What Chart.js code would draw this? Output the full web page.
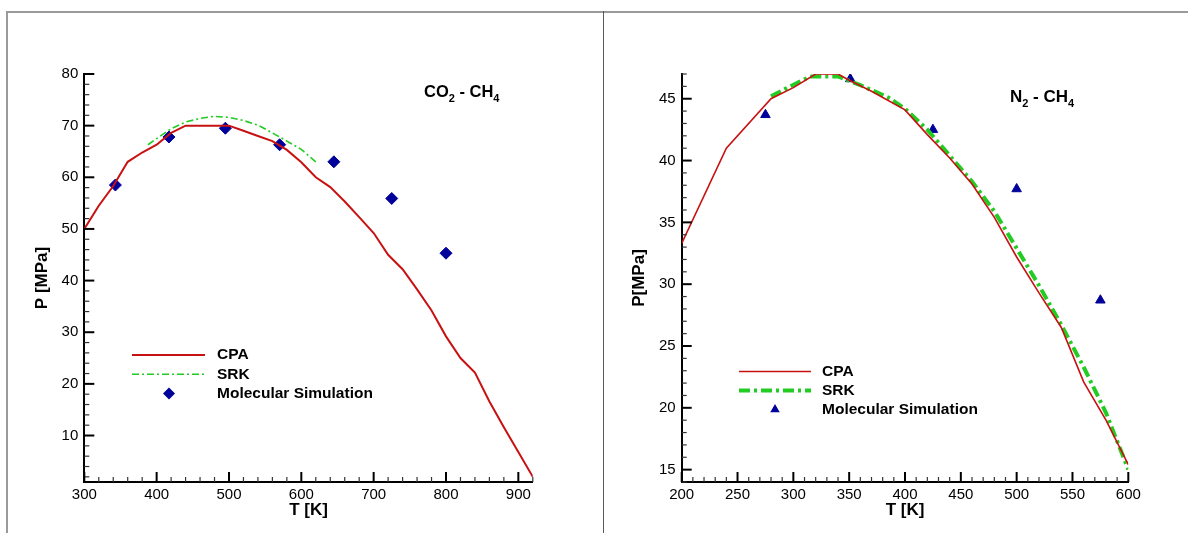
<!DOCTYPE html>
<html>
<head>
<meta charset="utf-8">
<title>Critical pressure loci: CO2-CH4 and N2-CH4</title>
<script src="https://cdn.jsdelivr.net/npm/chart.js@4.4.0/dist/chart.umd.min.js"></script>
<style>
  html, body { margin: 0; padding: 0; background: #fff; }
  #wrap { position: relative; width: 1188px; height: 533px; overflow: hidden; background: #fff; }
  canvas { position: absolute; top: 0; }
  #cLeft { left: 0; }
  #cRight { left: 600px; }
  .rule { position: absolute; }
</style>
</head>
<body>
<div id="wrap">
  <canvas id="cLeft" width="600" height="533"></canvas>
  <canvas id="cRight" width="588" height="533"></canvas>
  <div class="rule" style="left:6px;top:11px;width:1182px;height:2px;background:#9a9a9a"></div>
  <div class="rule" style="left:6px;top:11px;width:2px;height:522px;background:#9a9a9a"></div>
  <div class="rule" style="left:603px;top:11px;width:1px;height:522px;background:#5a5a5a"></div>
</div>
<script>
// ---------- CO2 - CH4 ----------
const co2CpaT = [300, 320, 340, 360, 380, 400, 420, 440, 460, 480, 500, 520, 540, 560, 580, 600,
                 620, 640, 660, 680, 700, 720, 740, 760, 780, 800, 820, 840, 860, 880, 900, 920];
const co2Cpa  = [50.0, 54.5, 58.3, 63.0, 64.8, 66.3, 68.6, 70.0, 70.0, 70.0, 70.0, 69.0, 68.0, 67.0, 65.3, 62.9,
                 60.0, 58.1, 55.3, 52.3, 49.2, 45.0, 42.2, 38.3, 34.2, 29.2, 25.0, 22.2, 16.6, 11.6, 6.8, 2.0];
const co2SrkT = [388, 400, 420, 440, 460, 480, 500, 520, 540, 560, 580, 600, 620];
const co2Srk  = [66.3, 67.5, 69.4, 70.7, 71.4, 71.8, 71.6, 71.0, 70.1, 68.6, 67.0, 65.4, 63.0];
const co2SimT = [343, 417, 495, 570, 645, 725, 800];
const co2Sim  = [58.5, 67.8, 69.5, 66.3, 63.0, 55.9, 45.3];
const co2XTicks = [300, 400, 500, 600, 700, 800, 900];
const co2YTicks = [10, 20, 30, 40, 50, 60, 70, 80];

// ---------- N2 - CH4 ----------
const n2CpaT = [200, 240, 280, 300, 320, 340, 350, 370, 400, 420, 440, 460, 480, 500, 520, 540, 560, 580, 600];
const n2Cpa  = [33.3, 41.0, 45.0, 45.9, 47.0, 47.0, 46.5, 45.6, 44.1, 42.1, 40.2, 38.1, 35.4, 32.2, 29.3, 26.5, 22.1, 19.0, 15.4];
const n2SrkT = [280, 295, 315, 340, 360, 385, 400, 420, 440, 460, 480, 500, 520, 540, 560, 580, 600];
const n2Srk  = [45.2, 45.9, 46.8, 46.8, 46.1, 45.1, 44.2, 42.5, 40.4, 38.3, 35.9, 32.9, 29.9, 26.7, 23.3, 19.6, 15.0];
const n2SimT = [275, 351, 425, 500, 575];
const n2Sim  = [43.7, 46.6, 42.5, 37.7, 28.7];
const n2XTicks = [200, 250, 300, 350, 400, 450, 500, 550, 600];
const n2YTicks = [15, 20, 25, 30, 35, 40, 45];

const FONT = "'Liberation Sans', Arial, sans-serif";
const RED = '#c81212';
const GREEN = '#22cc22';
const NAVY = '#00009a';

const pts = (xs, ys) => xs.map((x, i) => ({x, y: ys[i]}));

// Inward major/minor tick marks along the bottom and left axes
const innerTicks = {
  id: 'innerTicks',
  afterDatasetsDraw(chart, args, o) {
    const {ctx, chartArea: a, scales: {x, y}} = chart;
    ctx.save();
    const mark = (isX, v, len, w, col) => {
      ctx.strokeStyle = col; ctx.lineWidth = w;
      ctx.beginPath();
      if (isX) { const p = x.getPixelForValue(v); ctx.moveTo(p, a.bottom); ctx.lineTo(p, a.bottom - len); }
      else { const p = y.getPixelForValue(v); ctx.moveTo(a.left, p); ctx.lineTo(a.left + len, p); }
      ctx.stroke();
    };
    const minor = (isX, sc, step, majors) => {
      const n0 = Math.ceil(sc.min / step - 1e-9), n1 = Math.floor(sc.max / step + 1e-9);
      for (let n = n0; n <= n1; n++) {
        const v = +(n * step).toFixed(6);
        if (!majors.includes(v)) mark(isX, v, 5, 1.2, '#333');
      }
    };
    minor(true, x, o.xMinor, o.xMajor);
    minor(false, y, o.yMinor, o.yMajor);
    o.xMajor.forEach(v => mark(true, v, 10, 2, '#000'));
    o.yMajor.forEach(v => mark(false, v, 10, 2, '#000'));
    ctx.restore();
  }
};

// Species label and the in-plot legend
const decor = {
  id: 'decor',
  afterDraw(chart, args, o) {
    const {ctx} = chart;
    ctx.save();
    ctx.fillStyle = '#000';
    ctx.textBaseline = 'alphabetic';
    let cx = o.title.x;
    o.title.parts.forEach(([txt, sub]) => {
      ctx.font = sub ? `bold 11px ${FONT}` : `bold ${o.title.size}px ${FONT}`;
      ctx.fillText(txt, cx, o.title.y + (sub ? 5 : 0));
      cx += ctx.measureText(txt).width;
    });
    const L = o.legend;
    ctx.font = `bold 15.5px ${FONT}`;
    ctx.textBaseline = 'middle';
    chart.data.datasets.forEach((ds, i) => {
      const yy = L.y + i * L.dy;
      if (ds.showLine) {
        ctx.strokeStyle = ds.borderColor;
        ctx.lineWidth = ds.borderWidth;
        ctx.setLineDash(ds.borderDash || []);
        ctx.beginPath(); ctx.moveTo(L.x0, yy); ctx.lineTo(L.x1, yy); ctx.stroke();
        ctx.setLineDash([]);
      } else {
        const mx = L.mx, r = ds.pointRadius;
        ctx.fillStyle = ds.backgroundColor;
        ctx.beginPath();
        if (ds.pointStyle === 'triangle') {
          ctx.moveTo(mx, yy - r); ctx.lineTo(mx + r * 0.866, yy + r * 0.5); ctx.lineTo(mx - r * 0.866, yy + r * 0.5);
        } else {
          ctx.moveTo(mx - r, yy); ctx.lineTo(mx, yy - r); ctx.lineTo(mx + r, yy); ctx.lineTo(mx, yy + r);
        }
        ctx.closePath(); ctx.fill();
      }
      ctx.fillStyle = '#000';
      ctx.fillText(ds.label, L.tx, yy);
    });
    ctx.restore();
  }
};

function makeChart(id, cfg) {
  const axisX = {
    type: 'linear', position: 'bottom', min: cfg.xMin, max: cfg.xMax,
    grid: {display: false, drawTicks: false},
    border: {display: true, color: '#000', width: 2},
    ticks: {color: '#000', font: {family: FONT, size: 15}, padding: 4, maxRotation: 0, autoSkip: false},
    title: {display: true, text: 'T [K]', color: '#000', font: {family: FONT, size: 17, weight: 'bold'},
            padding: {top: 0, bottom: 12.8}},
    afterBuildTicks: s => { s.ticks = cfg.xTicks.map(v => ({value: v})); },
    afterFit: s => { s.height = 51; }
  };
  const axisY = {
    type: 'linear', position: 'left', min: cfg.yMin, max: cfg.yMax,
    grid: {display: false, drawTicks: false},
    border: {display: true, color: '#000', width: 2},
    ticks: {color: '#000', font: {family: FONT, size: 15}, padding: 6},
    title: {display: true, text: cfg.yTitle, color: '#000', font: {family: FONT, size: 17, weight: 'bold'},
            padding: {top: cfg.yTitlePad, bottom: 0}},
    afterBuildTicks: s => { s.ticks = cfg.yTicks.map(v => ({value: v})); },
    afterFit: s => { s.width = cfg.yAxisW; }
  };
  return new Chart(document.getElementById(id), {
    type: 'scatter',
    data: {datasets: cfg.datasets},
    options: {
      responsive: false, animation: false, devicePixelRatio: 1,
      layout: {padding: {top: 74, right: cfg.padRight, left: 0, bottom: 0}},
      scales: {x: axisX, y: axisY},
      plugins: {
        legend: {display: false}, tooltip: {enabled: false},
        innerTicks: {xMinor: cfg.xMinor, yMinor: cfg.yMinor, xMajor: cfg.xTicks, yMajor: cfg.yTicks},
        decor: {title: cfg.title, legend: cfg.legend}
      }
    },
    plugins: [innerTicks, decor]
  });
}

makeChart('cLeft', {
  xMin: 300, xMax: 920, yMin: 1, yMax: 80, xTicks: co2XTicks, yTicks: co2YTicks, xMinor: 20, yMinor: 2,
  yTitle: 'P [MPa]', yTitlePad: 32.3, yAxisW: 84.3, padRight: 67.2,
  title: {x: 424, y: 97, size: 16.5, parts: [['CO', false], ['2', true], [' - CH', false], ['4', true]]},
  legend: {x0: 132, x1: 205, tx: 217, mx: 169, y: 355, dy: 19.3},
  datasets: [
    {label: 'CPA', data: pts(co2CpaT, co2Cpa), showLine: true, borderColor: RED, borderWidth: 2,
     pointRadius: 0, backgroundColor: RED},
    {label: 'SRK', data: pts(co2SrkT, co2Srk), showLine: true, borderColor: GREEN, borderWidth: 1.6,
     borderDash: [7, 3, 2, 3], pointRadius: 0, backgroundColor: GREEN},
    {label: 'Molecular Simulation', data: pts(co2SimT, co2Sim), showLine: false, pointStyle: 'rectRot',
     pointRadius: 6, backgroundColor: NAVY, borderColor: NAVY, borderWidth: 1}
  ]
});

makeChart('cRight', {
  xMin: 200, xMax: 600, yMin: 14, yMax: 47, xTicks: n2XTicks, yTicks: n2YTicks, xMinor: 10, yMinor: 1,
  yTitle: 'P[MPa]', yTitlePad: 29.2, yAxisW: 81.7, padRight: 59.7,
  title: {x: 410, y: 102, size: 17, parts: [['N', false], ['2', true], [' - CH', false], ['4', true]]},
  legend: {x0: 139, x1: 211, tx: 222, mx: 175, y: 371.5, dy: 19},
  datasets: [
    {label: 'CPA', data: pts(n2CpaT, n2Cpa), showLine: true, borderColor: RED, borderWidth: 1.6,
     pointRadius: 0, backgroundColor: RED},
    {label: 'SRK', data: pts(n2SrkT, n2Srk), showLine: true, borderColor: GREEN, borderWidth: 4,
     borderDash: [11, 4, 3, 4], pointRadius: 0, backgroundColor: GREEN},
    {label: 'Molecular Simulation', data: pts(n2SimT, n2Sim), showLine: false, pointStyle: 'triangle',
     pointRadius: 5.5, backgroundColor: NAVY, borderColor: NAVY, borderWidth: 1}
  ]
});
</script>
</body>
</html>
